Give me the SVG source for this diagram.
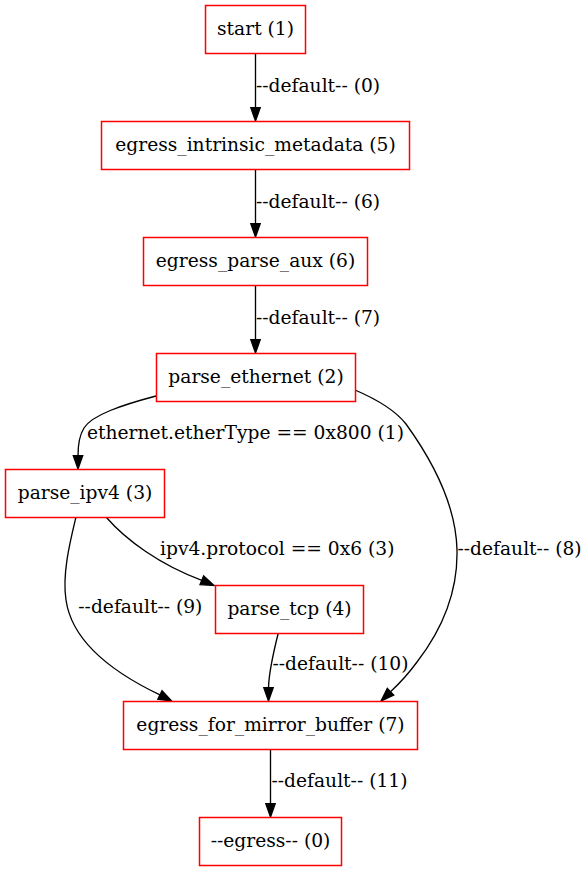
<svg xmlns="http://www.w3.org/2000/svg" width="586" height="871" viewBox="0 0 586 871">
<defs>
<style>
.node rect{fill:#fff;stroke:#ff0000;stroke-width:1.5}
.node text{font-family:"DejaVu Serif","Liberation Serif",serif;font-size:18.67px;fill:#000;text-anchor:middle}
.edge path{fill:none;stroke:#000;stroke-width:1.33}
.edge polygon{fill:#000;stroke:#000;stroke-width:1.33}
.edge text{font-family:"DejaVu Serif","Liberation Serif",serif;font-size:18.67px;fill:#000;text-anchor:start}
</style>
</defs>
<rect width="586" height="871" fill="#fff"/>
<g id="edges">
  <g class="edge" id="e_start_eim">
    <path d="M255.5,53 L255.5,107.7"/>
    <polygon points="250.8,107.7 260.2,107.7 255.5,121"/>
    <text x="256" y="91.5">--default-- (0)</text>
  </g>
  <g class="edge" id="e_eim_epa">
    <path d="M255.5,169 L255.5,223.7"/>
    <polygon points="250.8,223.7 260.2,223.7 255.5,237"/>
    <text x="256" y="207.5">--default-- (6)</text>
  </g>
  <g class="edge" id="e_epa_pe">
    <path d="M255.5,285 L255.5,339.7"/>
    <polygon points="250.8,339.7 260.2,339.7 255.5,353"/>
    <text x="256" y="323.5">--default-- (7)</text>
  </g>
  <g class="edge" id="e_pe_pi">
    <path d="M156,396 C122,405 92,415 84,428 C79,436 78,446 78,455.7"/>
    <polygon points="73.3,455.7 82.7,455.7 78,469"/>
    <text x="87" y="438.5">ethernet.etherType == 0x800 (1)</text>
  </g>
  <g class="edge" id="e_pe_efmb">
    <path d="M355,390 C376,399 395,410 406,424 C432,460 456,505 457,550 C458,597 437,636 417,662 C409,673 400,683 390.5,691.7"/>
    <polygon points="393.8,695.1 387.3,688.4 381,701"/>
    <text x="457.5" y="555">--default-- (8)</text>
  </g>
  <g class="edge" id="e_pi_pt">
    <path d="M106,517 C126,540 160,565 201.8,580.3"/>
    <polygon points="203.6,576 200,584.6 214,585.5"/>
    <text x="160" y="555">ipv4.protocol == 0x6 (3)</text>
  </g>
  <g class="edge" id="e_pi_efmb">
    <path d="M76,517 C70,542 62,574 66,600 C72,642 112,672 159.9,694.9"/>
    <polygon points="162,690.7 157.8,699.1 171.7,701"/>
    <text x="78.3" y="613">--default-- (9)</text>
  </g>
  <g class="edge" id="e_pt_efmb">
    <path d="M278.3,633 C274,650 269,670 268.5,687.7"/>
    <polygon points="263.8,687.7 273.2,687.7 268.5,701"/>
    <text x="272.5" y="670">--default-- (10)</text>
  </g>
  <g class="edge" id="e_efmb_egress">
    <path d="M270.5,749 L270.5,803.7"/>
    <polygon points="265.8,803.7 275.2,803.7 270.5,817"/>
    <text x="271.5" y="786.5">--default-- (11)</text>
  </g>
</g>
<g class="node" id="n_start">
  <rect x="205.5" y="5.5" width="100" height="48"/>
  <text x="255.5" y="34.6">start (1)</text>
</g>
<g class="node" id="n_egress_intrinsic_metadata">
  <rect x="101.5" y="121.5" width="308" height="48"/>
  <text x="255.5" y="150.6">egress_intrinsic_metadata (5)</text>
</g>
<g class="node" id="n_egress_parse_aux">
  <rect x="143.5" y="237.5" width="224" height="48"/>
  <text x="255.5" y="266.6">egress_parse_aux (6)</text>
</g>
<g class="node" id="n_parse_ethernet">
  <rect x="156.5" y="353.5" width="199" height="48"/>
  <text x="256" y="382.6">parse_ethernet (2)</text>
</g>
<g class="node" id="n_parse_ipv4">
  <rect x="5.5" y="469.5" width="159" height="48"/>
  <text x="85" y="498.6">parse_ipv4 (3)</text>
</g>
<g class="node" id="n_parse_tcp">
  <rect x="215.5" y="585.5" width="148" height="48"/>
  <text x="289.5" y="614.6">parse_tcp (4)</text>
</g>
<g class="node" id="n_egress_for_mirror_buffer">
  <rect x="123.5" y="701.5" width="294" height="48"/>
  <text x="270.5" y="730.6">egress_for_mirror_buffer (7)</text>
</g>
<g class="node" id="n_egress">
  <rect x="199.5" y="817.5" width="142" height="48"/>
  <text x="270.5" y="846.6">--egress-- (0)</text>
</g>
</svg>
